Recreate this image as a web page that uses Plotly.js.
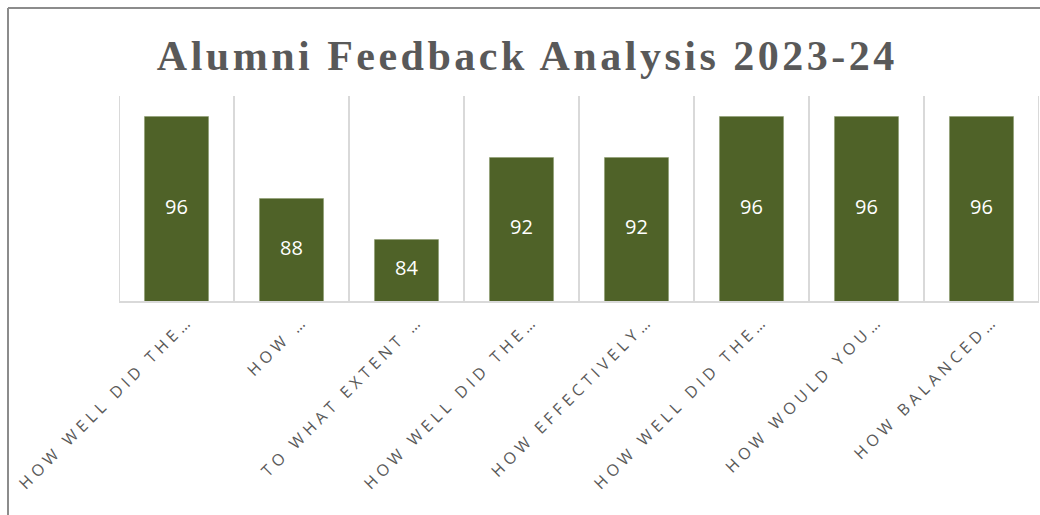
<!DOCTYPE html>
<html>
<head>
<meta charset="utf-8">
<script src="https://cdn.plot.ly/plotly-3.0.1.min.js"></script>
<style>
  html, body { margin: 0; padding: 0; background: #fff; overflow: hidden; }
  #chart { width: 1040px; height: 515px; }
  #chart .xtick text { letter-spacing: 4.5px; }
  #chart .gtitle { letter-spacing: 3.5px; }
</style>
</head>
<body>
<div id="chart"></div>
<script>
// Question labels as shown (truncated the same way as the source chart)
const questions = [
    'How well did the…',
    'How …',
    'To what extent …',
    'How well did the…',
    'How effectively…',
    'How well did the…',
    'How would you…',
    'How balanced…'
];
const scores = [96, 88, 84, 92, 92, 96, 96, 96];
const yRange = [78, 98];

const barColor = '#4f6228';
const gridColor = '#d9d9d9';
const frameColor = '#8c8c8c';
const positions = questions.map((q, i) => i);

const bars = {
    type: 'bar',
    x: positions,
    y: scores,
    marker: { color: barColor, line: { color: '#8a9a6a', width: 0.5 } },
    hoverinfo: 'y'
};

// value labels centred in the visible part of each bar
const labels = {
    type: 'scatter',
    mode: 'text',
    x: positions,
    y: scores.map(v => (v + yRange[0]) / 2),
    text: scores.map(String),
    textposition: 'middle center',
    textfont: { family: 'Open Sans, sans-serif', size: 20, color: '#ffffff' },
    hoverinfo: 'skip',
    cliponaxis: false
};

const layout = {
    width: 1040,
    height: 515,
    margin: { l: 119, r: 1, t: 96, b: 214 },
    paper_bgcolor: '#ffffff',
    plot_bgcolor: '#ffffff',
    title: {
        text: '<b>Alumni Feedback Analysis 2023-24</b>',
        font: { family: 'Liberation Serif, Times New Roman, serif', size: 42, color: '#595959' },
        x: 0.507, xref: 'container', xanchor: 'center',
        y: 1 - 55 / 515, yref: 'container', yanchor: 'middle'
    },
    bargap: 0.443,
    xaxis: {
        type: 'linear',
        range: [-0.5, questions.length - 0.5],
        tickmode: 'array',
        tickvals: positions,
        ticktext: questions.map(q => q.toUpperCase()),
        tickangle: -45,
        ticks: '',
        ticklen: 0,
        ticklabelshift: 12,
        ticklabelstandoff: 2,
        tickfont: { family: 'Open Sans, sans-serif', size: 16, color: '#595959' },
        showgrid: false,
        showline: true,
        linecolor: gridColor,
        linewidth: 2,
        zeroline: false,
        fixedrange: true
    },
    yaxis: {
        range: yRange,
        showticklabels: false,
        showgrid: false,
        zeroline: false,
        showline: false,
        ticks: '',
        fixedrange: true
    },
    shapes: [],
    showlegend: false
};

// vertical gridlines at category boundaries
for (let i = 0; i <= questions.length; i++) {
    layout.shapes.push({
        type: 'line', xref: 'x', yref: 'paper',
        x0: i - 0.5, x1: i - 0.5, y0: 0, y1: 1,
        line: { color: gridColor, width: 2 }, layer: 'below'
    });
}

// outer chart frame (left and top edges visible)
layout.shapes.push({
    type: 'line', xref: 'paper', yref: 'paper',
    x0: -111 / 920, x1: -111 / 920, y0: 293 / 205, y1: -1.2,
    line: { color: frameColor, width: 2 }
});
layout.shapes.push({
    type: 'line', xref: 'paper', yref: 'paper',
    x0: -111 / 920, x1: 1.1, y0: 293 / 205, y1: 293 / 205,
    line: { color: frameColor, width: 2 }
});

Plotly.newPlot('chart', [bars, labels], layout, { displayModeBar: false, staticPlot: true });
</script>
</body>
</html>
